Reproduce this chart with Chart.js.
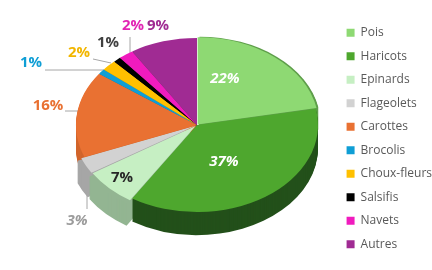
<!DOCTYPE html>
<html>
<head>
<meta charset="utf-8">
<script src="https://cdn.jsdelivr.net/npm/chart.js@4.4.1/dist/chart.umd.min.js"></script>
<style>
  html, body { margin: 0; padding: 0; background: #fff; }
  #wrap { width: 432px; height: 270px; }
</style>
</head>
<body>
<div id="wrap"><canvas id="pie"></canvas></div>
<script>
// data
const vegetables = ['Pois', 'Haricots', 'Epinards', 'Flageolets', 'Carottes', 'Brocolis', 'Choux-fleurs', 'Salsifis', 'Navets', 'Autres'];
const shares = [22, 37, 7, 3, 16, 1, 2, 1, 2, 9];
const shareLabels = ['22%', '37%', '7%', '3%', '16%', '1%', '2%', '1%', '2%', '9%'];

// styles
const topColours = ['#8ED973', '#4EA72E', '#C6EFC3', '#D2D2D2', '#E97132', '#0F9ED5', '#FFC000', '#000000', '#F01BBE', '#A02B93'];
const sideColours = ['#5E9E4A', '#23501A', '#93B592', '#A6A6A6', '#D2652C', '#0A6E96', '#B88A00', '#000000', '#A8137F', '#6E1E65'];
const pullOut = [4, 0, 8, 8, 0, 0, 0, 0, 0, 0];

// where each percentage sits, and how it looks
const labelStyle = [
  { x: 225, y: 79,  color: '#FFFFFF', italic: true },
  { x: 224, y: 162, color: '#FFFFFF', italic: true },
  { x: 122, y: 178, color: '#262626', italic: false },
  { x: 77,  y: 221, color: '#9C9C9C', italic: true },
  { x: 48,  y: 106, color: '#E97132', italic: false },
  { x: 31,  y: 63,  color: '#0F9ED5', italic: false },
  { x: 79,  y: 53,  color: '#F2B600', italic: false },
  { x: 108, y: 43,  color: '#404040', italic: false },
  { x: 133, y: 26,  color: '#E225B4', italic: false },
  { x: 158, y: 26,  color: '#A02B93', italic: false }
];
const leaders = [
  [[87, 209], [87, 186]],
  [[65, 111], [80, 111]],
  [[45, 70], [106, 70]],
  [[93, 59], [111, 63]],
  [[130, 37], [130, 56]]
];

const centre = { x: 197, y: 125 };
const tilt = 0.72;
const depth = 23;

function applyTilt(ctx, cx, cy, shift) {
  ctx.translate(centre.x, centre.y + shift);
  ctx.scale(1, tilt);
  ctx.translate(-cx, -cy);
}

const pie3d = {
  id: 'pie3d',
  beforeDatasetsDraw(chart) {
    const ctx = chart.ctx;
    const arcs = chart.getDatasetMeta(0).data;
    const cx = arcs[0].x, cy = arcs[0].y;

    // leader lines go under the pie
    ctx.save();
    ctx.strokeStyle = '#A6A6A6';
    ctx.lineWidth = 1;
    leaders.forEach(pts => {
      ctx.beginPath();
      pts.forEach((p, i) => i ? ctx.lineTo(p[0], p[1]) : ctx.moveTo(p[0], p[1]));
      ctx.stroke();
    });
    ctx.restore();

    // side walls: stacked copies of each slice
    for (let d = depth; d >= 1; d--) {
      ctx.save();
      applyTilt(ctx, cx, cy, d);
      arcs.forEach((arc, i) => {
        const off = arc.options.offset || 0;
        const mid = (arc.startAngle + arc.endAngle) / 2;
        const ox = cx + Math.cos(mid) * off;
        const oy = cy + Math.sin(mid) * off;
        ctx.beginPath();
        ctx.moveTo(ox, oy);
        ctx.arc(ox, oy, arc.outerRadius, arc.startAngle, arc.endAngle);
        ctx.closePath();
        ctx.fillStyle = sideColours[i];
        ctx.fill();
      });
      ctx.restore();
    }

    ctx.save();
    applyTilt(ctx, cx, cy, 0);
  },
  afterDatasetsDraw(chart) {
    const ctx = chart.ctx;
    ctx.restore();

    ctx.save();
    ctx.textAlign = 'center';
    ctx.textBaseline = 'middle';
    shareLabels.forEach((txt, i) => {
      const s = labelStyle[i];
      ctx.font = (s.italic ? 'italic ' : '') + 'bold 15px "Open Sans"';
      ctx.fillStyle = s.color;
      ctx.fillText(txt, s.x, s.y);
    });
    ctx.restore();
  }
};

new Chart(document.getElementById('pie'), {
  type: 'pie',
  data: {
    labels: vegetables,
    datasets: [{
      data: shares,
      backgroundColor: topColours,
      borderWidth: 0,
      offset: pullOut,
      radius: 121,
      clip: false
    }]
  },
  options: {
    responsive: true,
    maintainAspectRatio: false,
    animation: false,
    events: [],
    layout: { padding: { top: 7, right: -10 } },
    plugins: {
      tooltip: { enabled: false },
      legend: {
        position: 'right',
        align: 'center',
        labels: {
          boxWidth: 8,
          boxHeight: 8,
          padding: 11.5,
          color: '#595959',
          font: { family: 'Open Sans', size: 12 }
        }
      }
    }
  },
  plugins: [pie3d]
});
</script>
</body>
</html>
